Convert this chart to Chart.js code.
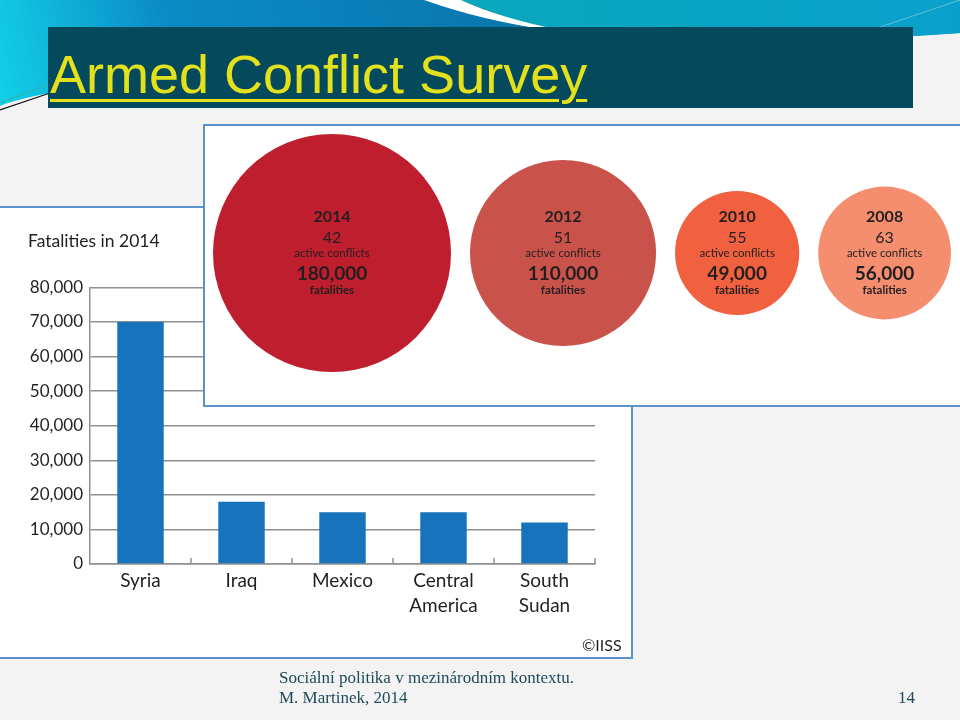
<!DOCTYPE html>
<html>
<head>
<meta charset="utf-8">
<script src="https://cdn.jsdelivr.net/npm/chart.js@4.4.1/dist/chart.umd.min.js"></script>
<style>
  html, body { margin: 0; padding: 0; }
  body { width: 960px; height: 720px; position: relative; overflow: hidden; background: #f3f3f3; }
  #bg { position: absolute; left: 0; top: 0; }
  #titleBar { position: absolute; left: 48px; top: 27px; width: 865px; height: 81px; background: #044a5c; }
  #titleText { position: absolute; left: 2px; top: 15px; color: #e3e01c; font-family: "Liberation Sans", sans-serif;
    font-size: 54px; line-height: 64px; text-decoration: underline; text-decoration-thickness: 3px; text-underline-offset: 6px; white-space: nowrap; }
  #barBox { position: absolute; left: -2px; top: 206px; width: 631px; height: 449px; background: #fff; border: 2px solid #5a93cc; }
  #barChart { position: absolute; left: 0; top: 208px; }
  #bubbleBox { position: absolute; left: 203px; top: 124px; width: 790px; height: 279px; background: #fff; border: 2px solid #5a93cc; }
  #bubbleChart { position: absolute; left: 205px; top: 126px; }
  .copy { position: absolute; left: 582px; top: 635px; font-family: "Lato", sans-serif; font-size: 16px; color: #231f20; }
  .foot { position: absolute; font-family: "Liberation Serif", serif; font-size: 17px; color: #1d4a5a; white-space: nowrap; }
</style>
</head>
<body>
<canvas id="bg" width="960" height="720"></canvas>
<div id="titleBar"><div id="titleText">Armed Conflict Survey</div></div>

<div id="barBox"></div>
<canvas id="barChart" width="628" height="447"></canvas>
<div class="copy">©IISS</div>

<div id="bubbleBox"></div>
<canvas id="bubbleChart" width="755" height="277"></canvas>

<div class="foot" style="left:279px; top:668px;">Sociální politika v mezinárodním kontextu.</div>
<div class="foot" style="left:279px; top:688px;">M. Martinek, 2014</div>
<div class="foot" style="left:898px; top:688px;">14</div>

<script>
// data - bar chart
const countries = ["Syria", "Iraq", "Mexico", ["Central", "America"], ["South", "Sudan"]];
const fatalities2014 = [70000, 18000, 15000, 15000, 12000];

// data - bubbles
const surveyYears = ["2014", "2012", "2010", "2008"];
const activeConflicts = [42, 51, 55, 63];
const totalFatalities = [180000, 110000, 49000, 56000];

// styles
const bubbleColors = ["#be1e2d", "#c9524a", "#f1613f", "#f58e6f"];
const barColor = "#1673bc";
const textDark = "#231f20";
const gridGrey = "#8f8f8f";

// background swoosh
(function drawBackground() {
  const c = document.getElementById("bg").getContext("2d");
  const g = c.createLinearGradient(0, 110, 500, 0);
  g.addColorStop(0, "#12d0e8");
  g.addColorStop(0.35, "#0b8cc4");
  g.addColorStop(1, "#0a76ae");
  c.fillStyle = g;
  c.beginPath();
  c.moveTo(0, 0);
  c.lineTo(960, 0);
  c.lineTo(960, 33);
  c.bezierCurveTo(700, 50, 120, 60, 0, 106);
  c.closePath();
  c.fill();
  // teal right part
  const t = c.createLinearGradient(450, 0, 960, 0);
  t.addColorStop(0, "#08a8bd");
  t.addColorStop(1, "#0aa0cc");
  c.fillStyle = t;
  c.beginPath();
  c.moveTo(461, 0);
  c.lineTo(960, 0);
  c.lineTo(960, 33);
  c.bezierCurveTo(800, 45, 650, 45, 540, 30);
  c.quadraticCurveTo(500, 15, 461, 0);
  c.closePath();
  c.fill();
  // white swoosh
  c.fillStyle = "#ffffff";
  c.beginPath();
  c.moveTo(424, 0);
  c.lineTo(461, 0);
  c.quadraticCurveTo(500, 18, 560, 30);
  c.lineTo(548, 30);
  c.quadraticCurveTo(480, 20, 424, 0);
  c.closePath();
  c.fill();
  // thin lines on right
  c.strokeStyle = "rgba(255,255,255,0.35)";
  c.lineWidth = 1;
  c.beginPath();
  c.moveTo(880, 27);
  c.lineTo(960, 0);
  c.stroke();
  // left lines
  c.strokeStyle = "#111";
  c.lineWidth = 1.2;
  c.beginPath();
  c.moveTo(0, 110);
  c.lineTo(50, 93);
  c.stroke();
  c.strokeStyle = "#29b8b0";
  c.beginPath();
  c.moveTo(0, 103);
  c.lineTo(50, 84);
  c.stroke();
})();

// upward tick marks between categories
const innerTicks = {
  id: "innerTicks",
  afterDraw(chart) {
    const xs = chart.scales.x;
    const ctx = chart.ctx;
    const bottom = chart.chartArea.bottom;
    ctx.save();
    ctx.strokeStyle = gridGrey;
    ctx.lineWidth = 1.5;
    for (let i = 1; i <= countries.length; i++) {
      let px;
      if (i < countries.length) px = (xs.getPixelForValue(i - 1) + xs.getPixelForValue(i)) / 2;
      else px = chart.chartArea.right;
      ctx.beginPath();
      ctx.moveTo(px, bottom);
      ctx.lineTo(px, bottom - 6);
      ctx.stroke();
    }
    ctx.restore();
  }
};

new Chart(document.getElementById("barChart"), {
  type: "bar",
  data: {
    labels: countries,
    datasets: [{
      data: fatalities2014,
      backgroundColor: barColor,
      barPercentage: 0.46,
      categoryPercentage: 1
    }]
  },
  options: {
    responsive: false,
    animation: false,
    layout: { padding: { left: 28, right: 33, top: 0, bottom: 0 }, autoPadding: false },
    plugins: {
      legend: { display: false },
      tooltip: { enabled: false },
      title: {
        display: true,
        text: "Fatalities in 2014",
        align: "start",
        color: textDark,
        font: { family: "Lato", size: 17.5, weight: "normal" },
        padding: { top: 23, bottom: 35.4 }
      }
    },
    scales: {
      x: {
        grid: { display: false, drawTicks: false },
        border: { display: true, color: gridGrey, width: 1.5 },
        ticks: { color: textDark, font: { family: "Lato", size: 19, lineHeight: 1.3 }, padding: 5, maxRotation: 0 },
        afterFit(s) { s.height = 91; }
      },
      y: {
        min: 0, max: 80000,
        grid: { color: gridGrey, lineWidth: 1.5, drawTicks: false },
        border: { display: true, color: gridGrey, width: 1.5 },
        ticks: {
          stepSize: 10000,
          color: textDark,
          padding: 7,
          font: { family: "Lato", size: 17 },
          callback: v => v.toLocaleString("en-US")
        },
        afterFit(s) { s.width = 62; }
      }
    }
  },
  plugins: [innerTicks]
});

// bubble sizes: area proportional to fatalities
const R_MAX = 119;
const GAP = 19;
const maxFat = Math.max(...totalFatalities);
const radii = totalFatalities.map(v => R_MAX * Math.sqrt(v / maxFat));
const centersX = [];
radii.forEach((r, i) => {
  if (i === 0) centersX.push(8 + r);
  else centersX.push(centersX[i - 1] + radii[i - 1] + GAP + r);
});

const bubbleLabels = {
  id: "bubbleLabels",
  afterDatasetsDraw(chart) {
    const ctx = chart.ctx;
    const meta = chart.getDatasetMeta(0);
    ctx.save();
    ctx.fillStyle = textDark;
    ctx.textAlign = "center";
    ctx.textBaseline = "middle";
    meta.data.forEach((el, i) => {
      const x = el.x, y = el.y;
      ctx.font = "bold 16px Lato";
      ctx.fillText(surveyYears[i], x, y - 36);
      ctx.font = "16px Lato";
      ctx.fillText(String(activeConflicts[i]), x, y - 15);
      ctx.font = "11.5px Lato";
      ctx.fillText("active conflicts", x, y);
      ctx.font = "bold 19px Lato";
      ctx.fillText(totalFatalities[i].toLocaleString("en-US"), x, y + 21);
      ctx.font = "bold 11.5px Lato";
      ctx.fillText("fatalities", x, y + 37);
    });
    ctx.restore();
  }
};

new Chart(document.getElementById("bubbleChart"), {
  type: "bubble",
  data: {
    datasets: [{
      data: totalFatalities.map((v, i) => ({ x: centersX[i], y: 127, r: radii[i] })),
      backgroundColor: bubbleColors,
      borderWidth: 0
    }]
  },
  options: {
    responsive: false,
    animation: false,
    layout: { padding: 0, autoPadding: false },
    plugins: { legend: { display: false }, tooltip: { enabled: false } },
    scales: {
      x: { type: "linear", display: false, min: 0, max: 755 },
      y: { type: "linear", display: false, min: 0, max: 277, reverse: true }
    }
  },
  plugins: [bubbleLabels]
});
</script>
</body>
</html>
